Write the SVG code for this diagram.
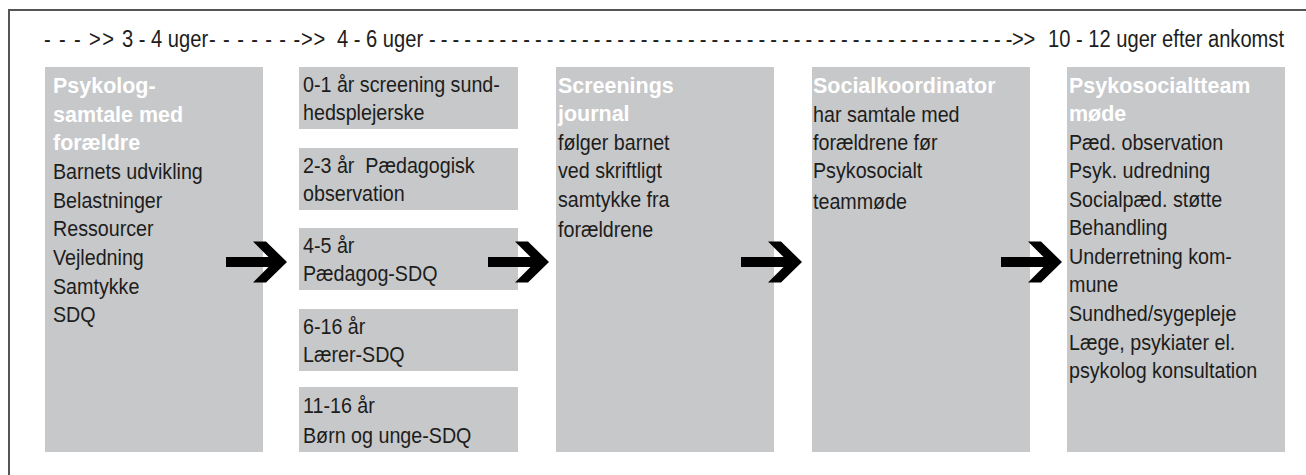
<svg xmlns="http://www.w3.org/2000/svg" width="1306" height="475" viewBox="0 0 1306 475">
<style>
.bg{fill:#ffffff}
.box{fill:#c7c8ca}
.frame{fill:none;stroke:#555555;stroke-width:2}
.t{font-family:"Liberation Sans",Arial,sans-serif;font-size:22.5px;fill:#1d1d1b;white-space:pre}
.h{font-weight:bold;fill:#ffffff}
.hd{font-size:23px}
.arrow{fill:#000000}
</style>
<defs>
<path id="arr" d="M0,-5 H49 V5 H0 Z M27,-20.5 H40 L61,0 L40,20.5 H27 L47.5,0 Z"/>
</defs>
<rect class="bg" x="0" y="0" width="1306" height="475"/>
<path class="frame" d="M9,475 V10 H1306"/>
<g id="header">
<g transform="translate(44,0) scale(0.875,1)"><text class="t hd" x="0" y="47" textLength="80" lengthAdjust="spacing">- - - &gt;&gt;</text></g>
<g transform="translate(122,0) scale(0.875,1)"><text class="t hd" x="0" y="47">3 - 4 uger</text></g>
<g transform="translate(209,0) scale(0.875,1)"><text class="t hd" x="0" y="47" textLength="133" lengthAdjust="spacing">- - - - - - -&gt;&gt;</text></g>
<g transform="translate(337,0) scale(0.875,1)"><text class="t hd" x="0" y="47">4 - 6 uger</text></g>
<g transform="translate(429,0) scale(0.875,1)"><text class="t hd" x="0" y="47" textLength="693" lengthAdjust="spacing">- - - - - - - - - - - - - - - - - - - - - - - - - - - - - - - - - - - - - - - - - - - - - - - - - -&gt;&gt;</text></g>
<g transform="translate(1048,0) scale(0.875,1)"><text class="t hd" x="0" y="47">10 - 12 uger efter ankomst</text></g>
</g>
<g id="node-psykolog">
<rect class="box" x="45" y="67" width="218" height="385"/>
<g transform="translate(53,0) scale(0.955,1)">
<text class="t h" x="0" y="93">Psykolog-</text>
<text class="t h" x="0" y="122">samtale med</text>
<text class="t h" x="0" y="150">forældre</text>
</g>
<g transform="translate(53,0) scale(0.875,1)">
<text class="t" x="0" y="179">Barnets udvikling</text>
<text class="t" x="0" y="208">Belastninger</text>
<text class="t" x="0" y="236">Ressourcer</text>
<text class="t" x="0" y="265">Vejledning</text>
<text class="t" x="0" y="294">Samtykke</text>
<text class="t" x="0" y="322">SDQ</text>
</g>
</g>
<g id="node-0-1">
<rect class="box" x="299" y="67" width="219" height="62"/>
<g transform="translate(303,0) scale(0.875,1)">
<text class="t" x="0" y="92">0-1 år screening sund-</text>
<text class="t" x="0" y="120">hedsplejerske</text>
</g>
</g>
<g id="node-2-3">
<rect class="box" x="299" y="148" width="219" height="62"/>
<g transform="translate(303,0) scale(0.875,1)">
<text class="t" x="0" y="173">2-3 år  Pædagogisk</text>
<text class="t" x="0" y="201">observation</text>
</g>
</g>
<g id="node-4-5">
<rect class="box" x="299" y="228" width="219" height="62"/>
<g transform="translate(303,0) scale(0.875,1)">
<text class="t" x="0" y="253">4-5 år</text>
<text class="t" x="0" y="281">Pædagog-SDQ</text>
</g>
</g>
<g id="node-6-16">
<rect class="box" x="299" y="309" width="219" height="62"/>
<g transform="translate(303,0) scale(0.875,1)">
<text class="t" x="0" y="334">6-16 år</text>
<text class="t" x="0" y="362">Lærer-SDQ</text>
</g>
</g>
<g id="node-11-16">
<rect class="box" x="299" y="387" width="219" height="65"/>
<g transform="translate(303,0) scale(0.875,1)">
<text class="t" x="0" y="413">11-16 år</text>
<text class="t" x="0" y="443">Børn og unge-SDQ</text>
</g>
</g>
<g id="node-screening">
<rect class="box" x="556" y="67" width="218" height="385"/>
<g transform="translate(558,0) scale(0.955,1)">
<text class="t h" x="0" y="93">Screenings</text>
<text class="t h" x="0" y="121">journal</text>
</g>
<g transform="translate(558,0) scale(0.875,1)">
<text class="t" x="0" y="150">følger barnet</text>
<text class="t" x="0" y="178">ved skriftligt</text>
<text class="t" x="0" y="207">samtykke fra</text>
<text class="t" x="0" y="237">forældrene</text>
</g>
</g>
<g id="node-social">
<rect class="box" x="812" y="67" width="218" height="385"/>
<g transform="translate(813,0) scale(0.955,1)">
<text class="t h" x="0" y="93">Socialkoordinator</text>
</g>
<g transform="translate(813,0) scale(0.875,1)">
<text class="t" x="0" y="122">har samtale med</text>
<text class="t" x="0" y="150">forældrene før</text>
<text class="t" x="0" y="178">Psykosocialt</text>
<text class="t" x="0" y="209">teammøde</text>
</g>
</g>
<g id="node-team">
<rect class="box" x="1067" y="67" width="218" height="385"/>
<g transform="translate(1069,0) scale(0.955,1)">
<text class="t h" x="0" y="93">Psykosocialtteam</text>
<text class="t h" x="0" y="121">møde</text>
</g>
<g transform="translate(1069,0) scale(0.875,1)">
<text class="t" x="0" y="150">Pæd. observation</text>
<text class="t" x="0" y="178">Psyk. udredning</text>
<text class="t" x="0" y="207">Socialpæd. støtte</text>
<text class="t" x="0" y="235">Behandling</text>
<text class="t" x="0" y="264">Underretning kom-</text>
<text class="t" x="0" y="292">mune</text>
<text class="t" x="0" y="321">Sundhed/sygepleje</text>
<text class="t" x="0" y="350">Læge, psykiater el.</text>
<text class="t" x="0" y="378">psykolog konsultation</text>
</g>
</g>
<g id="connectors">
<use href="#arr" class="arrow" x="226" y="262"/>
<use href="#arr" class="arrow" x="488" y="262"/>
<use href="#arr" class="arrow" x="741" y="262"/>
<use href="#arr" class="arrow" x="1001" y="262"/>
</g>
</svg>
